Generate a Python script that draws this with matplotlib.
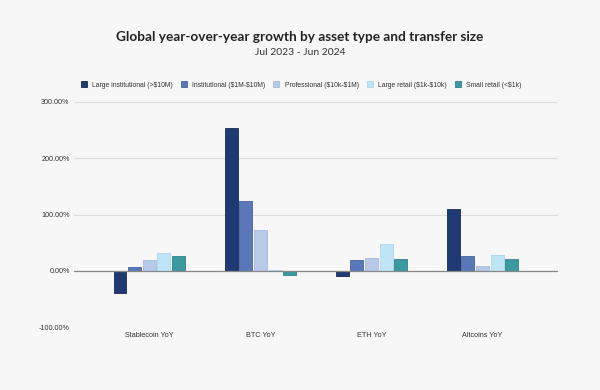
import numpy as np
import matplotlib.pyplot as plt
from matplotlib.ticker import FuncFormatter

# Data (YoY growth, %)
categories = ['Stablecoin YoY', 'BTC YoY', 'ETH YoY', 'Altcoins YoY']
series_names = ['Large institutional (>\\$10M)', 'Institutional (\\$1M-\\$10M)',
                'Professional (\\$10k-\\$1M)', 'Large retail (\\$1k-\\$10k)',
                'Small retail (<\\$1k)']
large_inst = [-39, 254, -9, 110]
institutional = [7, 124, 19, 27]
professional = [20, 73, 22, 9]
large_retail = [31, 1, 47, 28]
small_retail = [26, -7, 21, 21]

values = [large_inst, institutional, professional, large_retail, small_retail]
colors = ['#1f3a72', '#5a78b9', '#b6c9e9', '#bfe4f6', '#3a9a9f']
edges = ['#152a55', '#46629f', '#a5b9dc', '#acd6ec', '#2c8489']

bg = '#f7f7f7'
fig = plt.figure(figsize=(6, 3.9), dpi=100, facecolor=bg)
ax = fig.add_axes([0.123, 0.161, 0.807, 0.578], facecolor=bg)

x = np.arange(len(categories))
width = 0.117
pitch = 0.132
for i, (vals, c, ec, name) in enumerate(zip(values, colors, edges, series_names)):
    ax.bar(x + (i - 2) * pitch, vals, width, color=c, edgecolor=ec, linewidth=0.6,
           label=name, zorder=3)

ax.set_xlim(-0.68, 3.68)
ax.set_ylim(-100, 300)
ax.set_yticks([-100, 0, 100, 200, 300])
ax.yaxis.set_major_formatter(FuncFormatter(lambda v, p: f'{v:.2f}%'))
ax.set_xticks(x)
ax.set_xticklabels(categories)
ax.tick_params(axis='both', length=0, labelsize=5.2, colors='#333333')
ax.tick_params(axis='y', pad=3)
ax.tick_params(axis='x', pad=3.5)
for lab in ax.get_xticklabels() + ax.get_yticklabels():
    lab.set_fontfamily('Liberation Sans')

ax.grid(axis='y', color='#dcdcdc', linewidth=0.8, zorder=0)
ax.axhline(0, color='#888888', linewidth=0.9, zorder=4)
for s in ax.spines.values():
    s.set_visible(False)

fig.text(0.5, 0.905, 'Global year-over-year growth by asset type and transfer size',
         ha='center', va='center', fontsize=9.8, fontweight='bold', family='Lato', color='#222222')
fig.text(0.5, 0.866, 'Jul 2023 - Jun 2024', ha='center', va='center', fontsize=7.5,
         family='Lato', color='#333333')

handles, labels = ax.get_legend_handles_labels()
leg = fig.legend(handles, labels, loc='center', bbox_to_anchor=(0.502, 1 - 85 / 390), ncol=5,
                 frameon=False, prop={'family': 'Liberation Sans', 'size': 4.9},
                 handlelength=0.9, handleheight=0.9, handletextpad=0.8, columnspacing=1.15)
for t in leg.get_texts():
    t.set_color('#333333')

fig.savefig('out.png', dpi=100, facecolor=bg)
